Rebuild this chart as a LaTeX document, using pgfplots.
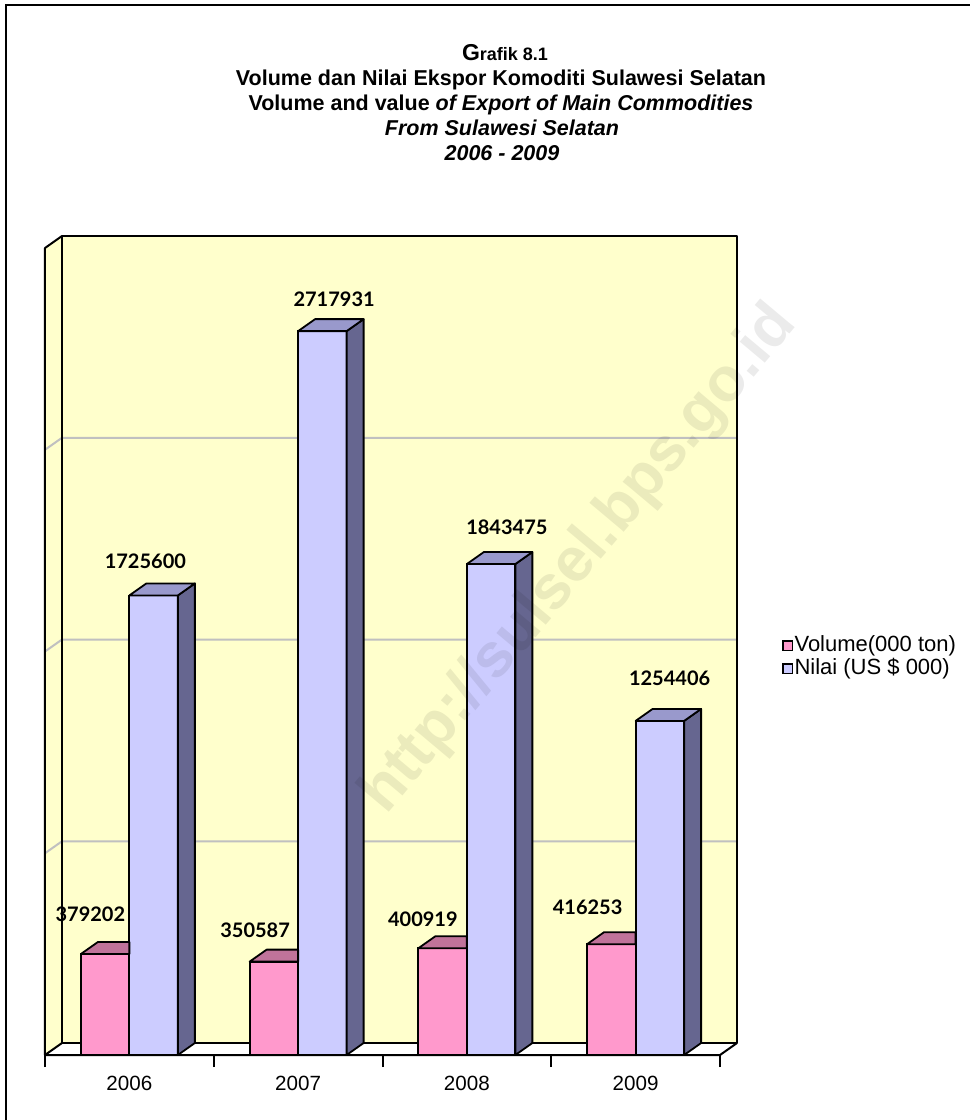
\documentclass[border=0pt]{standalone}
\usepackage{fontspec}
\setmainfont{Liberation Sans}
\newfontfamily\labfont{Lato}
\usepackage{pgfplots}
\usepackage{pgfplotstable}
\pgfplotsset{compat=1.18}

\definecolor{pinkfront}{HTML}{FF99CC}
\definecolor{pinktop}{HTML}{C0739A}
\definecolor{lavfront}{HTML}{CCCCFF}
\definecolor{lavtop}{HTML}{9999CC}
\definecolor{lavside}{HTML}{666690}
\definecolor{wall}{HTML}{FFFFCC}
\definecolor{gridgray}{HTML}{C0C0C0}

\pgfplotstableread{
x val
0 379202
1 350587
2 400919
3 416253
}\voltab
\pgfplotstableread{
x val
0 1725600
1 2717931
2 1843475
3 1254406
}\nilaitab

\pgfdeclareplotmark{blank}{}
\tikzset{face/.style={draw=black,line width=0.9pt,line join=round}}

% 3D faces, drawn at the point (category centre, bar top)
% pink: only the part of the top face left of the lavender bar shows
\newcommand\pinkcap{%
  \filldraw[face,fill=pinktop] (-24.25pt,0pt) -- (0pt,0pt) -- (0pt,6pt) -- (-15.75pt,6pt) -- cycle;}
\newcommand\lavcap{%
  \edef\hh{\fpeval{\pgfplotspointmetatransformed*0.4035}}%
  \filldraw[face,fill=lavside] (24.25pt,0pt) -- (32.75pt,6pt) -- (32.75pt,6pt-\hh pt)
    -- (24.25pt,-\hh pt) -- cycle;
  \filldraw[face,fill=lavtop] (0pt,0pt) -- (24.25pt,0pt) -- (32.75pt,6pt) -- (8.5pt,6pt) -- cycle;}

% value label, shifted by #1,#2 px from the top of the category centre
\newcommand\shiftlab[3]{\makebox[0pt]{\hspace*{#1pt}\raisebox{\dimexpr #2pt/2\relax}{\labfont\bfseries\fontsize{10}{12}\selectfont #3}}}
\newcommand\pinklab[2]{\ifcase#1 \shiftlab{-39}{33}{#2}\or\shiftlab{-43}{24}{#2}\or
  \shiftlab{-44}{22}{#2}\or\shiftlab{-48}{30}{#2}\fi}
\newcommand\lavlab[2]{\ifcase#1 \shiftlab{16}{27}{#2}\or\shiftlab{36}{25}{#2}\or
  \shiftlab{40}{30}{#2}\or\shiftlab{34}{35}{#2}\fi}

\begin{document}
\begin{tikzpicture}
\useasboundingbox (0,0) rectangle (485pt,-560pt);

% frame
\draw[line width=1pt] (3pt,-560pt) -- (3pt,-2.5pt) -- (485pt,-2.5pt);

% title
\node[anchor=base,font=\bfseries] at (252.5pt,-30pt)
  {\fontsize{11.5}{13}\selectfont G\fontsize{9}{11}\selectfont rafik 8.1};
\begin{scope}[every node/.style={anchor=base,font=\bfseries\fontsize{10.75}{12}\selectfont}]
\node at (250.5pt,-42.5pt) {Volume dan Nilai Ekspor Komoditi Sulawesi Selatan};
\node at (250.5pt,-55pt) {Volume and value \itshape of Export of Main Commodities};
\node at (251pt,-67.5pt) {\itshape From Sulawesi Selatan};
\node at (251pt,-80pt) {\itshape 2006 - 2009};
\end{scope}

\begin{axis}[
  at={(22.5pt,-527.5pt)}, anchor=south west,
  scale only axis, width=337.5pt, height=403.5pt,
  clip=false,
  xmin=-0.5, xmax=3.5, ymin=0, ymax=3030000,
  enlargelimits=false,
  axis line style={draw=none},
  ytick=\empty,
  xtick={0,1,2,3}, xticklabels={2006,2007,2008,2009},
  minor xtick={-0.5,0.5,1.5,2.5,3.5},
  xtick pos=left, tick align=outside,
  major tick length=0pt, minor tick length=6pt,
  minor x tick style={black,line width=1pt},
  xticklabel style={font=\fontsize{10.3}{12}\selectfont,yshift=-7pt},
  legend style={at={(axis description cs:1.0919,0.493)},anchor=west,
    draw=none,fill=none,inner sep=0pt,
    nodes={inner sep=0.75pt,text height=7.8pt,text depth=2.2pt,
      font=\fontsize{11}{13}\selectfont}},
  legend cell align=left,
  legend image code/.code={\draw[#1,draw=black,line width=0.7pt]
    (0pt,-2.3pt) rectangle (4.6pt,2.3pt);},
  nodes near coords align={anchor=base},
  every node near coord/.append style={inner sep=0pt},
]

% walls and floor
\fill[wall] ([shift={(8.5pt,6pt)}]rel axis cs:0,0) rectangle ([shift={(8.5pt,6pt)}]rel axis cs:1,1);
\fill[wall] (rel axis cs:0,0) -- (rel axis cs:0,1) -- ([shift={(8.5pt,6pt)}]rel axis cs:0,1)
  -- ([shift={(8.5pt,6pt)}]rel axis cs:0,0) -- cycle;
\fill[white] (rel axis cs:0,0) -- (rel axis cs:1,0) -- ([shift={(8.5pt,6pt)}]rel axis cs:1,0)
  -- ([shift={(8.5pt,6pt)}]rel axis cs:0,0) -- cycle;
\draw[gridgray,line width=1pt] (rel axis cs:0,0.25) -- ([shift={(8.5pt,6pt)}]rel axis cs:0,0.25)
  -- ([shift={(8.5pt,6pt)}]rel axis cs:1,0.25);
\draw[gridgray,line width=1pt] (rel axis cs:0,0.5) -- ([shift={(8.5pt,6pt)}]rel axis cs:0,0.5)
  -- ([shift={(8.5pt,6pt)}]rel axis cs:1,0.5);
\draw[gridgray,line width=1pt] (rel axis cs:0,0.75) -- ([shift={(8.5pt,6pt)}]rel axis cs:0,0.75)
  -- ([shift={(8.5pt,6pt)}]rel axis cs:1,0.75);
\draw[black,line width=1pt,line join=round]
  ([shift={(8.5pt,6pt)}]rel axis cs:0,0) rectangle ([shift={(8.5pt,6pt)}]rel axis cs:1,1);
\draw[black,line width=1pt,line join=round]
  (rel axis cs:0,0) -- (rel axis cs:0,1) -- ([shift={(8.5pt,6pt)}]rel axis cs:0,1);
\draw[black,line width=1pt,line join=round]
  ([shift={(8.5pt,6pt)}]rel axis cs:0,0) -- (rel axis cs:0,0) -- (rel axis cs:1,0)
  -- ([shift={(8.5pt,6pt)}]rel axis cs:1,0);

% front faces
\addplot[ybar, bar width=24.25pt, bar shift=-12.125pt, fill=pinkfront, draw=black,
  line width=0.9pt] table[x=x,y=val] {\voltab};
\addlegendentry{Volume(000 ton)}
\addplot[ybar, bar width=24.25pt, bar shift=12.125pt, fill=lavfront, draw=black,
  line width=0.9pt] table[x=x,y=val] {\nilaitab};
\addlegendentry{Nilai (US \$ 000)}

% top and side faces
\addplot[scatter, only marks, mark=blank, forget plot,
  point meta=explicit, point meta min=0, point meta max=3030000,
  scatter/@pre marker code/.code={\pinkcap},
  scatter/@post marker code/.code={},
] table[x=x,y=val,meta=val] {\voltab};
\addplot[scatter, only marks, mark=blank, forget plot,
  point meta=explicit, point meta min=0, point meta max=3030000,
  scatter/@pre marker code/.code={\lavcap},
  scatter/@post marker code/.code={},
] table[x=x,y=val,meta=val] {\nilaitab};

% value labels
\addplot[only marks, mark=blank, forget plot, point meta=explicit symbolic,
  nodes near coords={\pinklab{\coordindex}{\pgfplotspointmeta}},
] table[x=x,y=val,meta=val] {\voltab};
\addplot[only marks, mark=blank, forget plot, point meta=explicit symbolic,
  nodes near coords={\lavlab{\coordindex}{\pgfplotspointmeta}},
] table[x=x,y=val,meta=val] {\nilaitab};
\end{axis}

% watermark
\node[rotate=50,font=\bfseries\fontsize{31}{33}\selectfont,text=black,opacity=0.08]
  at (290pt,-280pt) {http://sulsel.bps.go.id};
\end{tikzpicture}
\end{document}
